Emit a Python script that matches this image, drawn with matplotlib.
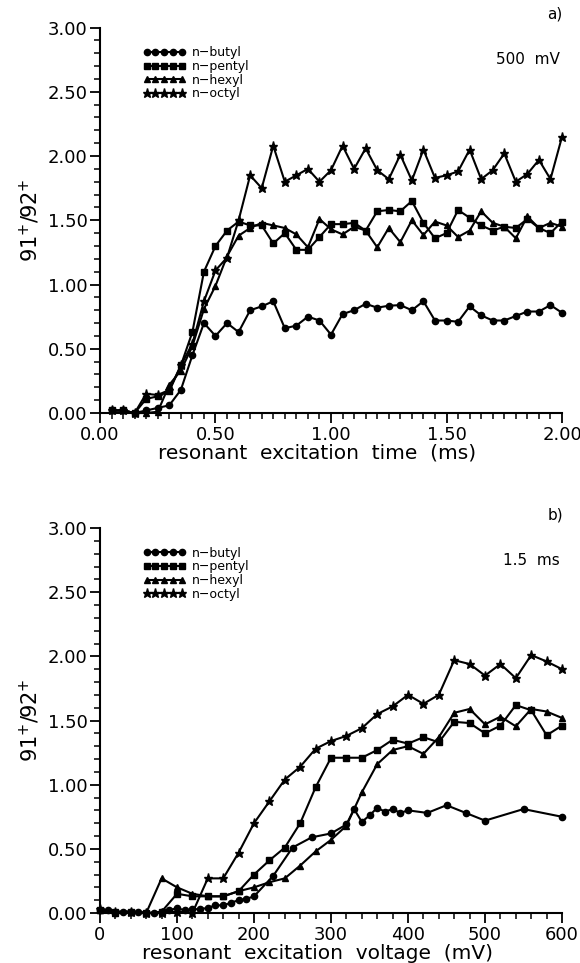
import numpy as np
import matplotlib
matplotlib.use('Agg')
import matplotlib.pyplot as plt
from matplotlib.ticker import MultipleLocator, FormatStrFormatter

# --- panel a: ratio vs resonant excitation time (ms), 500 mV ---
time_ms = np.round(np.arange(1, 41) * 0.05, 2)

butyl_a = [0.02, 0.02, 0.00, 0.02, 0.04, 0.06, 0.18, 0.45, 0.70, 0.60,
           0.70, 0.63, 0.80, 0.83, 0.87, 0.66, 0.68, 0.75, 0.72, 0.61,
           0.77, 0.80, 0.85, 0.82, 0.835, 0.84, 0.80, 0.87, 0.72, 0.72,
           0.71, 0.83, 0.76, 0.72, 0.72, 0.755, 0.79, 0.79, 0.84, 0.78]
pentyl_a = [0.02, 0.02, 0.00, 0.11, 0.13, 0.17, 0.37, 0.63, 1.10, 1.30,
            1.42, 1.49, 1.46, 1.46, 1.32, 1.40, 1.27, 1.27, 1.37, 1.47,
            1.47, 1.48, 1.42, 1.57, 1.58, 1.57, 1.65, 1.48, 1.36, 1.40,
            1.58, 1.52, 1.46, 1.42, 1.45, 1.44, 1.51, 1.44, 1.40, 1.49]
hexyl_a = [0.02, 0.02, 0.00, 0.00, 0.01, 0.22, 0.33, 0.52, 0.81, 0.99,
           1.22, 1.38, 1.44, 1.48, 1.46, 1.44, 1.39, 1.29, 1.51, 1.43,
           1.39, 1.45, 1.42, 1.29, 1.44, 1.33, 1.50, 1.385, 1.49, 1.46,
           1.37, 1.42, 1.57, 1.48, 1.45, 1.36, 1.53, 1.44, 1.48, 1.45]
octyl_a = [0.02, 0.02, 0.00, 0.15, 0.14, 0.18, 0.37, 0.54, 0.87, 1.11,
           1.21, 1.50, 1.85, 1.75, 2.08, 1.80, 1.85, 1.90, 1.80, 1.89,
           2.08, 1.90, 2.06, 1.89, 1.82, 2.01, 1.81, 2.05, 1.83, 1.85,
           1.88, 2.05, 1.82, 1.89, 2.02, 1.80, 1.86, 1.97, 1.82, 2.15]

# --- panel b: ratio vs resonant excitation voltage (mV), 1.5 ms ---
volt_butyl = [0, 10, 20, 30, 40, 50, 60, 70, 80, 90, 100, 110, 120, 130,
              140, 150, 160, 170, 180, 190, 200, 225, 250, 275, 300, 320,
              330, 340, 350, 360, 370, 380, 390, 400, 425, 450, 475, 500,
              550, 600]
butyl_b = [0.02, 0.02, 0.00, 0.01, 0.01, 0.01, 0.00, 0.00, 0.01, 0.02,
           0.04, 0.02, 0.03, 0.03, 0.04, 0.06, 0.06, 0.08, 0.10, 0.11,
           0.13, 0.29, 0.51, 0.59, 0.62, 0.69, 0.81, 0.71, 0.76, 0.82,
           0.79, 0.81, 0.78, 0.80, 0.78, 0.84, 0.78, 0.72, 0.81, 0.75]

volt = list(range(0, 601, 20))
pentyl_b = [0.02, 0.01, 0.01, 0.00, 0.01, 0.15, 0.13, 0.13, 0.13, 0.17,
            0.30, 0.41, 0.51, 0.70, 0.98, 1.21, 1.21, 1.21, 1.27, 1.35,
            1.32, 1.37, 1.33, 1.49, 1.48, 1.40, 1.46, 1.62, 1.58, 1.385,
            1.46]
hexyl_b = [0.02, 0.00, 0.01, 0.00, 0.27, 0.20, 0.15, 0.13, 0.13, 0.17,
           0.20, 0.24, 0.27, 0.37, 0.48, 0.57, 0.68, 0.94, 1.16, 1.27,
           1.30, 1.24, 1.37, 1.56, 1.59, 1.47, 1.53, 1.455, 1.59, 1.57,
           1.52]
octyl_b = [0.03, 0.01, 0.01, 0.00, 0.00, 0.01, 0.00, 0.27, 0.27, 0.47,
           0.70, 0.87, 1.04, 1.14, 1.28, 1.34, 1.38, 1.44, 1.55, 1.61,
           1.70, 1.63, 1.70, 1.97, 1.94, 1.85, 1.94, 1.83, 2.01, 1.96,
           1.90]

labels = ['n\u2212butyl', 'n\u2212pentyl', 'n\u2212hexyl', 'n\u2212octyl']
markers = ['o', 's', '^', '*']
msizes = [4.5, 4.0, 5.0, 6.5]

plt.rcParams['font.family'] = ['DejaVu Sans']

fig = plt.figure(figsize=(5.8, 9.63), dpi=100)
ax1 = fig.add_axes([0.1724, 0.5711, 0.7966, 0.4003])
ax2 = fig.add_axes([0.1724, 0.0519, 0.7966, 0.3998])

series_a = [(time_ms, butyl_a), (time_ms, pentyl_a), (time_ms, hexyl_a), (time_ms, octyl_a)]
series_b = [(volt_butyl, butyl_b), (volt, pentyl_b), (volt, hexyl_b), (volt, octyl_b)]

for ax, series in [(ax1, series_a), (ax2, series_b)]:
    for (x, y), lab, m, ms in zip(series, labels, markers, msizes):
        ax.plot(x, y, color='black', lw=1.5, marker=m, ms=ms,
                mfc='black', mec='black', label=lab, clip_on=False)
    ax.set_ylim(0, 3.0)
    ax.yaxis.set_major_locator(MultipleLocator(0.5))
    ax.yaxis.set_minor_locator(MultipleLocator(0.1))
    ax.yaxis.set_major_formatter(FormatStrFormatter('%.2f'))
    for s in ['top', 'right']:
        ax.spines[s].set_visible(False)
    for s in ['left', 'bottom']:
        ax.spines[s].set_linewidth(1.5)
    ax.tick_params(which='major', direction='out', length=7, width=1.3, labelsize=13, pad=2)
    ax.tick_params(which='minor', direction='out', length=4.5, width=1.1)
    ax.set_ylabel('91$^{+}$/92$^{+}$', fontsize=15, labelpad=4)
    ax.legend(loc='upper left', bbox_to_anchor=(0.082, 0.964), frameon=False,
              numpoints=5, handlelength=3.4, fontsize=9, labelspacing=0.05,
              handletextpad=0.55, borderaxespad=0)

ax1.set_xlim(0, 2.0)
ax1.xaxis.set_major_locator(MultipleLocator(0.5))
ax1.xaxis.set_minor_locator(MultipleLocator(0.05))
ax1.xaxis.set_major_formatter(FormatStrFormatter('%.2f'))
ax1.set_xlabel('resonant  excitation  time  (ms)', fontsize=14.5, labelpad=0, x=0.47)
ax1.text(0.985, 1.035, 'a)', transform=ax1.transAxes, ha='center', va='center', fontsize=11)
ax1.text(0.995, 0.916, '500  mV', transform=ax1.transAxes, ha='right', va='center', fontsize=11)

ax2.set_xlim(0, 600)
ax2.xaxis.set_major_locator(MultipleLocator(100))
ax2.xaxis.set_minor_locator(MultipleLocator(20))
ax2.set_xlabel('resonant  excitation  voltage  (mV)', fontsize=14.5, labelpad=0, x=0.47)
ax2.text(0.985, 1.035, 'b)', transform=ax2.transAxes, ha='center', va='center', fontsize=11)
ax2.text(0.995, 0.916, '1.5  ms', transform=ax2.transAxes, ha='right', va='center', fontsize=11)

fig.savefig('out.png', dpi=100)
